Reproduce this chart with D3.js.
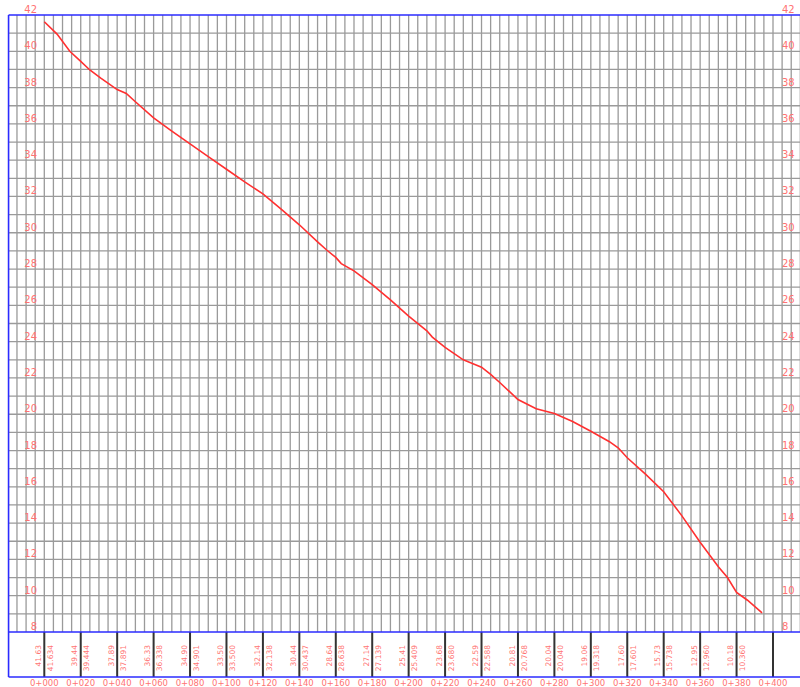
<!DOCTYPE html>
<html>
<head>
<meta charset="utf-8">
<script src="https://cdn.jsdelivr.net/npm/d3@7/dist/d3.min.js"></script>
<style>
  html, body { margin: 0; padding: 0; background: #fff; overflow: hidden; }
  svg { display: block; }
</style>
</head>
<body>
<svg id="chart" width="800" height="687"></svg>
<script>
// ---- data ----
const yTicks = [8, 10, 12, 14, 16, 18, 20, 22, 24, 26, 28, 30, 32, 34, 36, 38, 40, 42];
const stations = [0, 20, 40, 60, 80, 100, 120, 140, 160, 180, 200, 220, 240, 260, 280, 300, 320, 340, 360, 380, 400];
const stationLabels = ["0+000","0+020","0+040","0+060","0+080","0+100","0+120","0+140","0+160","0+180","0+200",
                       "0+220","0+240","0+260","0+280","0+300","0+320","0+340","0+360","0+380","0+400"];
const designLabels = ["41.63","39.44","37.89","36.33","34.90","33.50","32.14","30.44","28.64","27.14",
                      "25.41","23.68","22.59","20.81","20.04","19.06","17.60","15.73","12.95","10.18"];
const groundLabels = ["41.634","39.444","37.891","36.338","34.901","33.500","32.138","30.437","28.638","27.139",
                      "25.409","23.680","22.588","20.768","20.040","19.318","17.601","15.738","12.960","10.360"];
const profileStation = [0, 7, 14, 20, 25, 31, 40, 45, 50, 60, 70, 80, 90, 100, 110, 120, 130, 140, 150, 155,
                        160, 163, 170, 180, 190, 200, 210, 213, 220, 230, 235, 240, 245, 250, 260, 270, 280,
                        290, 300, 310, 315, 320, 330, 340, 350, 360, 370, 375, 380, 386, 394];
const profileElev = [41.63, 40.95, 40.0, 39.44, 38.97, 38.52, 37.89, 37.68, 37.22, 36.33, 35.6, 34.90, 34.2, 33.5, 32.8, 32.14, 31.3, 30.44, 29.5, 29.05,
                     28.64, 28.3, 27.9, 27.14, 26.3, 25.41, 24.6, 24.25, 23.68, 23.0, 22.8, 22.59, 22.2, 21.75, 20.81, 20.3, 20.04,
                     19.6, 19.06, 18.5, 18.15, 17.60, 16.7, 15.73, 14.4, 12.95, 11.6, 11.0, 10.18, 9.75, 9.05];

// ---- layout ----
const svg = d3.select("#chart");
const W = 800;
const x = d3.scaleLinear().domain([0, 400]).range([44.3, 773]);
const y = d3.scaleLinear().domain([8, 42]).range([632, 15]);
const leftX = x(-20) + 0.7;
const bandTop = 632, bandBottom = 677;
const red = "#ff7373";

// grid
const vGrid = d3.range(-15, 420, 5);
svg.append("g").selectAll("line").data(vGrid).join("line")
  .attr("x1", d => x(d)).attr("x2", d => x(d))
  .attr("y1", y(42)).attr("y2", y(8))
  .attr("stroke", "#9a9a9a").attr("stroke-width", 1.3);
const hGrid = d3.range(9, 42, 1);
svg.append("g").selectAll("line").data(hGrid).join("line")
  .attr("x1", leftX).attr("x2", W)
  .attr("y1", d => y(d)).attr("y2", d => y(d))
  .attr("stroke", "#9a9a9a").attr("stroke-width", 1.3);

// band dividers
svg.append("g").selectAll("line").data(stations).join("line")
  .attr("x1", d => x(d)).attr("x2", d => x(d))
  .attr("y1", bandTop).attr("y2", bandBottom)
  .attr("stroke", "#333").attr("stroke-width", 2);

// blue frame
const blue = "#2b2bff";
[[leftX, y(42), W, y(42)], [leftX, bandTop, W, bandTop], [leftX, bandBottom, W, bandBottom], [leftX, y(42), leftX, bandBottom]]
  .forEach(c => svg.append("line").attr("x1", c[0]).attr("y1", c[1]).attr("x2", c[2]).attr("y2", c[3])
    .attr("stroke", blue).attr("stroke-width", 1.6));

// y axis labels (left & right) via d3 axes
const axL = svg.append("g").attr("transform", "translate(37,0)")
  .call(d3.axisLeft(y).tickValues(yTicks).tickSize(0).tickPadding(0).tickFormat(d3.format("d")));
const axR = svg.append("g").attr("transform", "translate(782,0)")
  .call(d3.axisRight(y).tickValues(yTicks).tickSize(0).tickPadding(0).tickFormat(d3.format("d")));
[axL, axR].forEach(ax => {
  ax.select(".domain").remove();
  ax.selectAll("text").attr("dy", "-0.25em").attr("fill", red)
    .style("font-family", "DejaVu Sans, sans-serif").style("font-size", "10px");
});

// profile line
const line = d3.line().x(d => x(d[0])).y(d => y(d[1]));
svg.append("path").datum(profileStation.map((s, i) => [s, profileElev[i]]))
  .attr("d", line).attr("fill", "none").attr("stroke", "#ff3030").attr("stroke-width", 1.6);

// band labels
const bandG = svg.append("g").style("font-family", "DejaVu Sans, sans-serif").style("font-size", "7.5px").attr("fill", red);
designLabels.forEach((t, i) => {
  bandG.append("text").attr("transform", `translate(${x(stations[i]) - 6},645) rotate(-90)`)
    .attr("text-anchor", "end").attr("dy", "0.35em").text(t);
});
groundLabels.forEach((t, i) => {
  bandG.append("text").attr("transform", `translate(${x(stations[i]) + 6},645) rotate(-90)`)
    .attr("text-anchor", "end").attr("dy", "0.35em").text(t);
});

// station labels
svg.append("g").selectAll("text").data(stations).join("text")
  .attr("x", d => x(d)).attr("y", 686).attr("text-anchor", "middle")
  .attr("fill", red).style("font-family", "DejaVu Sans, sans-serif").style("font-size", "8.5px")
  .text((d, i) => stationLabels[i]);
</script>
</body>
</html>
